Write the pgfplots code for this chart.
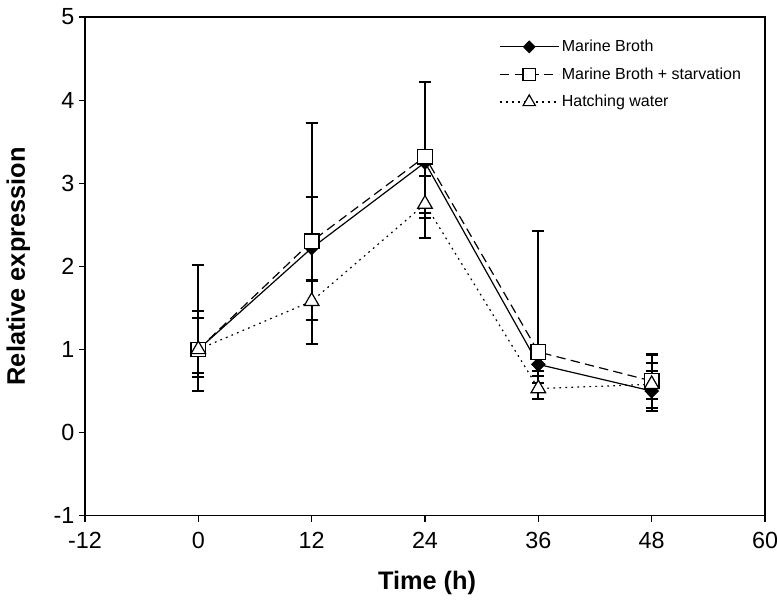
\documentclass[border=0pt]{standalone}
\usepackage{fontspec}
\setmainfont{Liberation Sans}
\usepackage{pgfplots}
\pgfplotsset{compat=1.18}

\begin{document}
\begin{tikzpicture}
\begin{axis}[
  at={(0,0)}, anchor=south west,
  scale only axis, width=510pt, height=374pt,
  xmin=-12, xmax=60, ymin=-1, ymax=5,
  xtick={-12,0,12,24,36,48,60}, ytick={-1,0,1,2,3,4,5},
  tick align=outside, tick pos=left, major tick length=4.5pt,
  axis line style={line width=0.8pt}, tick style={line width=0.8pt, black},
  /pgf/number format/assume math mode=true,
  ticklabel style={font=\fontsize{17.5}{20}\selectfont},
  xticklabel style={yshift=-4pt},
  xlabel={\textbf{Time (h)}}, ylabel={\textbf{Relative expression}},
  label style={font=\fontsize{19}{22}\selectfont},
  xlabel style={at={(axis description cs:0.503,-0.134)}, anchor=center},
  ylabel style={at={(axis description cs:-0.098,0.5)}, anchor=center},
  legend style={draw=none, fill=none, at={(0.603,0.965)}, anchor=north west,
    font=\fontsize{12}{14}\selectfont, row sep=6.5pt},
  legend cell align=left,
  legend image code/.code={\draw[mark repeat=2,mark phase=2,#1,
    every mark/.append style={scale=0.85}]
    plot coordinates {(0pt,0pt) (22pt,0pt) (44pt,0pt)};},
  every axis plot/.append style={black, line width=0.9pt},
  error bars/error bar style={line width=1.6pt, solid},
  error bars/error mark options={rotate=90, mark size=4.5pt, line width=1.6pt, solid},
]
\addplot[mark=diamond*, mark size=5pt, mark options={solid, fill=black, xscale=1.3},
  error bars/.cd, y dir=both, y explicit] coordinates {
  (0,1.00)  += (0,0.46) -= (0,0.33)
  (12,2.22) += (0,0.61) -= (0,0.39)
  (24,3.25) += (0,0.12) -= (0,0.67)
  (36,0.82) += (0,0.10) -= (0,0.22)
  (48,0.50) += (0,0.34) -= (0,0.20)
};
\addlegendentry{Marine Broth}
\addplot[dash pattern=on 7pt off 4pt, mark=square*, mark size=5.5pt,
  mark options={solid, fill=white},
  error bars/.cd, y dir=both, y explicit] coordinates {
  (0,1.00)  += (0,1.02) -= (0,0.50)
  (12,2.30) += (0,1.42) -= (0,0.95)
  (24,3.32) += (0,0.90) -= (0,0.68)
  (36,0.97) += (0,1.45) -= (0,0.23)
  (48,0.62) += (0,0.32) -= (0,0.36)
};
\addlegendentry{Marine Broth + starvation}
\addplot[dash pattern=on 1.3pt off 3.2pt, mark=triangle*, mark size=6.3pt,
  mark options={solid, fill=white},
  error bars/.cd, y dir=both, y explicit] coordinates {
  (0,1.00)  += (0,0.38) -= (0,0.28)
  (12,1.58) += (0,0.65) -= (0,0.51)
  (24,2.75) += (0,0.34) -= (0,0.41)
  (36,0.53) += (0,0.15) -= (0,0.13)
  (48,0.58) += (0,0.16) -= (0,0.18)
};
\addlegendentry{Hatching water}
\end{axis}
\pgfresetboundingbox
\useasboundingbox (-63.75pt,-63pt) rectangle (519pt,386.75pt);
\end{tikzpicture}
\end{document}
